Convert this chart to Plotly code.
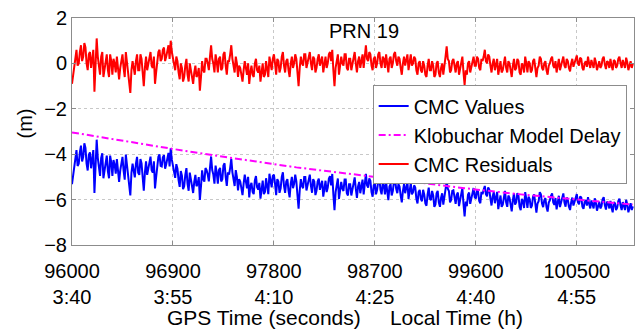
import plotly.graph_objects as go

# ---------------- data ----------------
t_start = 96000
t_step = 10

cmc_residuals = [
    -0.9, -0.5, -0.2, 0.4, 0.6, -0.1, 0.0, 0.5, 0.8, 0.1, 0.3, 0.9, 0.7, 0.0, -0.3, 0.4, 0.5, -0.2, 0.2, 0.6,
    -1.25, 0.2, 1.1, 0.3, -0.2, -0.5, 0.3, 0.5, -0.6, -0.2, 0.1, 0.4, -0.3, -0.6, 0.4, 0.1, -0.5, 0.2, 0.0, -0.4,
    0.3, -0.1, -0.7, -0.2, 0.2, 0.4, -0.2, -0.6, 0.5, 0.0, -0.4, -0.8, -1.3, -0.3, 0.1, -0.2, -0.5, 0.1, 0.4, -0.3,
    -0.3, 0.4, 0.2, -0.4, -1.0, -0.2, 0.3, -0.3, 0.0, 0.2, 0.5, -0.1, -0.2, 0.3, -0.9, -0.4, 0.1, 0.5, 0.6, 0.1,
    0.2, 0.6, 0.7, 0.1, 0.3, 0.6, 0.8, 0.2, 1.0, 0.5, 0.2, -0.2, -0.3, 0.3, 0.1, -0.4, -0.7, 0.0, -0.2, -0.8,
    -0.6, -0.1, 0.2, -0.5, -0.8, 0.0, -0.3, -0.7, -0.9, -0.4, -0.1, -0.6, -0.5, -0.2, -1.2, -0.6, 0.1, -0.3, -0.4, 0.2,
    0.2, 0.0, -0.3, 0.3, 0.8, 0.2, 0.0, -0.4, 0.4, 0.1, -0.4, 0.2, 0.3, -0.3, -0.2, 0.4, 0.5, -0.1, -0.5, 0.1,
    0.1, 0.4, 0.8, 0.2, -0.1, -0.4, 0.3, 0.0, -0.6, -0.1, -0.2, -0.5, -0.8, -0.3, 0.1, -0.2, -0.5, 0.0, -0.9, -0.4,
    -0.1, -0.5, -0.6, 0.0, 0.2, -0.3, -0.4, -0.1, -0.8, -0.4, 0.0, -0.6, -0.5, 0.1, -0.2, -0.6, 0.3, 0.0, -0.3, 0.2,
    0.4, 0.0, -0.5, 0.2, 0.1, -0.4, -0.2, 0.3, 0.5, -0.1, -0.4, 0.1, 0.2, -0.3, -0.6, 0.0, 0.3, -0.2, 0.0, 0.4,
    0.2, -0.4, -1.0, -0.2, 0.3, 0.0, -0.1, 0.4, 0.4, -0.2, 0.0, 0.3, 0.5, 0.0, -0.3, 0.3, 0.2, -0.4, -0.2, 0.2,
    0.4, -0.1, 0.1, 0.3, -0.4, 0.0, 0.3, -0.2, 0.0, 0.4, 0.5, 0.1, 0.6, -0.3, -1.0, -0.2, 0.2, 0.4, -0.5, 0.0,
    0.3, 0.0, -0.1, 0.4, 0.4, -0.2, -0.3, 0.2, 0.2, -0.3, 0.0, 0.4, 0.5, 0.0, -0.4, 0.1, 0.3, -0.2, 0.1, 0.4,
    -0.2, 0.3, 0.8, 0.2, 0.1, 0.5, 0.4, -0.1, -0.3, 0.2, 0.3, -0.2, 0.0, 0.4, 0.5, 0.0, -0.2, 0.3, 0.2, -0.2,
    0.4, 0.0, -0.4, 0.2, 0.3, -0.2, 0.0, 0.4, 0.5, 0.1, -0.1, 0.3, 0.2, -0.2, -0.5, 0.0, 0.3, -0.1, 0.1, 0.4,
    -0.3, 0.1, 0.4, -0.1, 0.0, 0.3, 0.2, -0.3, -0.5, 0.0, 0.1, -0.3, -0.4, 0.1, -0.1, -0.5, -0.6, -0.1, 0.2, -0.3,
    -0.3, 0.1, -0.1, -0.6, -0.5, 0.0, 0.1, -0.4, -0.6, -0.2, 0.0, -0.5, -0.2, 0.3, 0.75, 0.2, 0.1, -0.4, -0.3, 0.1,
    0.2, -0.1, -0.4, 0.0, 0.1, -0.5, -0.2, 0.2, 0.3, -0.4, -0.95, -0.3, -0.5, 0.0, 0.1, -0.4, -0.2, 0.1, 0.3, -0.1,
    -0.1, 0.3, 0.2, -0.2, -0.3, 0.2, 0.1, 0.3, 0.6, 0.1, 0.0, 0.4, 0.3, -0.1, -0.4, 0.0, 0.2, -0.3, -0.1, 0.2,
    -0.5, -0.1, 0.1, -0.4, -0.3, 0.0, 0.3, -0.2, -0.4, 0.1, 0.0, -0.3, -0.6, -0.1, 0.2, -0.3, -0.2, 0.2, 0.1, -0.4,
    -0.5, 0.0, -0.1, -0.4, 0.3, 0.0, -0.4, 0.1, 0.0, -0.4, -0.3, 0.1, 0.2, -0.2, -0.6, -0.2, -0.1, 0.3, 0.2, -0.2,
    -0.3, 0.0, 0.1, -0.3, -0.5, -0.1, 0.0, 0.2, 0.3, -0.1, -0.2, 0.1, -0.4, -0.1, 0.2, -0.3, -0.1, 0.1, 0.3, -0.1,
    -0.2, 0.2, 0.1, -0.2, -0.35, 0.0, 0.2, -0.15, 0.0, 0.25, 0.35, 0.0, -0.1, 0.25, 0.2, -0.2, -0.3, 0.0, 0.1, -0.15,
    0.3, 0.0, -0.2, 0.15, 0.0, -0.2, 0.25, 0.05, -0.3, 0.0, 0.1, -0.2, -0.1, 0.2, 0.3, -0.05, -0.25, 0.1, 0.05, -0.2,
    0.2, -0.1, -0.3, 0.15, 0.1, -0.2, -0.1, 0.2, 0.3, 0.0, -0.2, 0.15, 0.0, -0.2, 0.25, 0.05, -0.3, 0.0, 0.1, -0.2,
    0.0,
]

cmc_values = [
    -5.32, -4.92, -4.62, -4.02, -3.82, -4.52, -4.42, -3.92, -3.62, -4.32, -4.12, -3.52, -3.72, -4.42, -4.72, -4.02, -3.92, -4.62, -4.22, -3.82,
    -5.71, -4.26, -3.36, -4.16, -4.66, -4.96, -4.16, -3.96, -5.06, -4.66, -4.36, -4.06, -4.76, -5.06, -4.06, -4.36, -4.96, -4.26, -4.46, -4.86,
    -4.22, -4.62, -5.22, -4.72, -4.32, -4.12, -4.72, -5.12, -4.02, -4.52, -4.92, -5.32, -5.82, -4.82, -4.42, -4.72, -5.02, -4.42, -4.12, -4.82,
    -4.91, -4.21, -4.41, -5.01, -5.61, -4.81, -4.31, -4.91, -4.61, -4.41, -4.11, -4.71, -4.81, -4.31, -5.51, -5.01, -4.51, -4.11, -4.01, -4.51,
    -4.54, -4.14, -4.04, -4.64, -4.44, -4.14, -3.94, -4.54, -3.74, -4.24, -4.54, -4.94, -5.04, -4.44, -4.64, -5.14, -5.44, -4.74, -4.94, -5.54,
    -5.41, -4.91, -4.61, -5.31, -5.61, -4.81, -5.11, -5.51, -5.71, -5.21, -4.91, -5.41, -5.31, -5.01, -6.01, -5.41, -4.71, -5.11, -5.21, -4.61,
    -4.70, -4.90, -5.20, -4.60, -4.10, -4.70, -4.90, -5.30, -4.50, -4.80, -5.30, -4.70, -4.60, -5.20, -5.10, -4.50, -4.40, -5.00, -5.40, -4.80,
    -4.90, -4.60, -4.20, -4.80, -5.10, -5.40, -4.70, -5.00, -5.60, -5.10, -5.20, -5.50, -5.80, -5.30, -4.90, -5.20, -5.50, -5.00, -5.90, -5.40,
    -5.26, -5.66, -5.76, -5.16, -4.96, -5.46, -5.56, -5.26, -5.96, -5.56, -5.16, -5.76, -5.66, -5.06, -5.36, -5.76, -4.86, -5.16, -5.46, -4.96,
    -4.90, -5.30, -5.80, -5.10, -5.20, -5.70, -5.50, -5.00, -4.80, -5.40, -5.70, -5.20, -5.10, -5.60, -5.90, -5.30, -5.00, -5.50, -5.30, -4.90,
    -5.20, -5.80, -6.40, -5.60, -5.10, -5.40, -5.50, -5.00, -5.00, -5.60, -5.40, -5.10, -4.90, -5.40, -5.70, -5.10, -5.20, -5.80, -5.60, -5.20,
    -5.07, -5.57, -5.37, -5.17, -5.87, -5.47, -5.17, -5.67, -5.47, -5.07, -4.97, -5.37, -4.87, -5.77, -6.47, -5.67, -5.27, -5.07, -5.97, -5.47,
    -5.22, -5.52, -5.62, -5.12, -5.12, -5.72, -5.82, -5.32, -5.32, -5.82, -5.52, -5.12, -5.02, -5.52, -5.92, -5.42, -5.22, -5.72, -5.42, -5.12,
    -5.77, -5.27, -4.87, -5.37, -5.47, -5.07, -5.17, -5.67, -5.87, -5.37, -5.27, -5.77, -5.57, -5.17, -5.07, -5.57, -5.77, -5.27, -5.37, -5.77,
    -5.22, -5.62, -6.02, -5.42, -5.32, -5.82, -5.62, -5.22, -5.12, -5.52, -5.72, -5.32, -5.42, -5.82, -6.12, -5.62, -5.32, -5.72, -5.52, -5.22,
    -5.97, -5.57, -5.27, -5.77, -5.67, -5.37, -5.47, -5.97, -6.17, -5.67, -5.57, -5.97, -6.07, -5.57, -5.77, -6.17, -6.27, -5.77, -5.47, -5.97,
    -6.02, -5.62, -5.82, -6.32, -6.22, -5.72, -5.62, -6.12, -6.32, -5.92, -5.72, -6.22, -5.92, -5.42, -5.20, -5.52, -5.62, -6.12, -6.02, -5.62,
    -5.59, -5.89, -6.19, -5.79, -5.69, -6.29, -5.99, -5.59, -5.49, -6.19, -6.74, -6.09, -6.29, -5.79, -5.69, -6.19, -5.99, -5.69, -5.49, -5.89,
    -5.96, -5.56, -5.66, -6.06, -6.16, -5.66, -5.76, -5.56, -5.40, -5.76, -5.86, -5.46, -5.56, -5.96, -6.26, -5.86, -5.66, -6.16, -5.96, -5.66,
    -6.42, -6.02, -5.82, -6.32, -6.22, -5.92, -5.62, -6.12, -6.32, -5.82, -5.92, -6.22, -6.52, -6.02, -5.72, -6.22, -6.12, -5.72, -5.82, -6.32,
    -6.47, -5.97, -6.07, -6.37, -5.67, -5.97, -6.37, -5.87, -5.97, -6.37, -6.27, -5.87, -5.77, -6.17, -6.57, -6.17, -6.07, -5.67, -5.77, -6.17,
    -6.33, -6.03, -5.93, -6.33, -6.53, -6.13, -6.03, -5.83, -5.73, -6.13, -6.23, -5.93, -6.43, -6.13, -5.83, -6.33, -6.13, -5.93, -5.73, -6.13,
    -6.31, -5.91, -6.01, -6.31, -6.46, -6.11, -5.91, -6.26, -6.11, -5.86, -5.76, -6.11, -6.21, -5.86, -5.91, -6.31, -6.41, -6.11, -6.01, -6.26,
    -5.89, -6.19, -6.39, -6.04, -6.19, -6.39, -5.94, -6.14, -6.49, -6.19, -6.09, -6.39, -6.29, -5.99, -5.89, -6.24, -6.44, -6.09, -6.14, -6.39,
    -6.06, -6.36, -6.56, -6.11, -6.16, -6.46, -6.36, -6.06, -5.96, -6.26, -6.46, -6.11, -6.26, -6.46, -6.01, -6.21, -6.56, -6.26, -6.16, -6.46,
    -6.30,
]

klob_time = [96000, 96500, 97000, 97500, 98000, 98500, 99000, 99500, 100000, 100500, 101000]
klob_delay = [-3.04, -3.45, -3.85, -4.22, -4.58, -4.88, -5.20, -5.50, -5.77, -6.00, -6.22]

x_tickvals = [96000, 96900, 97800, 98700, 99600, 100500]
x_ticktext = ["96000<br>3:40", "96900<br>3:55", "97800<br>4:10",
              "98700<br>4:25", "99600<br>4:40", "100500<br>4:55"]
y_tickvals = [-8, -6, -4, -2, 0, 2]

gps_time = [t_start + t_step * i for i in range(len(cmc_values))]

# ---------------- figure ----------------
FONT = "Liberation Sans, Arial, sans-serif"

fig = go.Figure()
fig.add_trace(go.Scatter(x=gps_time, y=cmc_values, mode="lines", name="CMC Values",
                         line=dict(color="#0000ff", width=2)))
fig.add_trace(go.Scatter(x=klob_time, y=klob_delay, mode="lines", name="Klobuchar Model Delay",
                         line=dict(color="#ff00ff", width=2, dash="7px,3px,2px,3px")))
fig.add_trace(go.Scatter(x=gps_time[:len(cmc_residuals)], y=cmc_residuals, mode="lines",
                         name="CMC Residuals", line=dict(color="#ff0000", width=2)))

axis_common = dict(
    showline=True, linecolor="#8c8c8c", linewidth=1, mirror="ticks",
    ticks="inside", ticklen=4, tickcolor="#8c8c8c",
    showgrid=True, gridcolor="#c8c8c8", griddash="dot", gridwidth=1,
    zeroline=False,
    tickfont=dict(family=FONT, size=20, color="#000000"),
)

fig.update_layout(
    width=642, height=332,
    margin=dict(l=72, r=7, t=16, b=87),
    paper_bgcolor="white", plot_bgcolor="white",
    font=dict(family=FONT, size=20, color="#000000"),
    showlegend=True,
    legend=dict(x=0.535, y=0.703, xanchor="left", yanchor="top",
                bgcolor="white", bordercolor="#8c8c8c", borderwidth=1,
                font=dict(family=FONT, size=20, color="#000000"),
                tracegroupgap=0, itemwidth=30),
    xaxis=dict(range=[96000, 101010], tickvals=x_tickvals, ticktext=x_ticktext,
               ticklabelstandoff=8, **axis_common),
    yaxis=dict(range=[-8, 2], tickvals=y_tickvals, **axis_common),
    annotations=[
        dict(text="PRN 19", x=0.52, y=0.943, xref="paper", yref="paper",
             showarrow=False, xanchor="center", yanchor="middle",
             font=dict(family=FONT, size=20, color="#000000")),
        dict(text="(m)", x=-0.083, y=0.537, xref="paper", yref="paper",
             showarrow=False, xanchor="center", yanchor="middle", textangle=-90,
             font=dict(family=FONT, size=20, color="#000000")),
        dict(text="GPS Time (seconds)\u00a0\u00a0\u00a0\u00a0\u00a0Local Time (h)",
             x=0.485, y=-0.319, xref="paper", yref="paper",
             showarrow=False, xanchor="center", yanchor="middle",
             font=dict(family=FONT, size=21, color="#000000")),
    ],
)

fig.write_html("out.html", config={"displayModeBar": False},
               post_script="document.body.style.margin='0px';")
